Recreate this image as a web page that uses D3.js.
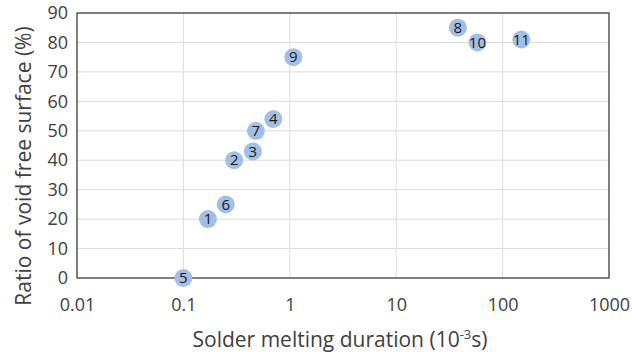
<!DOCTYPE html>
<html>
<head>
<meta charset="utf-8">
<script src="https://cdn.jsdelivr.net/npm/d3@7"></script>
<style>
  body { margin: 0; background: #fff; }
  text { font-family: "Open Sans", sans-serif; fill: #404040; }
</style>
</head>
<body>
<svg width="632" height="356"></svg>
<script>
// sample numbers, melting duration (10^-3 s), void free ratio (%)
const ids       = ["1", "2", "3", "4", "5", "6", "7", "8", "9", "10", "11"];
const durations = [0.17, 0.30, 0.45, 0.70, 0.10, 0.25, 0.48, 38, 1.08, 58, 150];
const ratios    = [20, 40, 43, 54, 0, 25, 50, 85, 75, 80, 81];
const xTicks    = [0.01, 0.1, 1, 10, 100, 1000];
const yTicks    = [0, 10, 20, 30, 40, 50, 60, 70, 80, 90];

const svg = d3.select("svg"),
      plotL = 77, plotR = 609, plotT = 13, plotB = 278;

const x = d3.scaleLog().domain([0.01, 1000]).range([plotL, plotR]);
const y = d3.scaleLinear().domain([0, 90]).range([plotB, plotT]);

const data = ids.map((id, i) => ({ id, x: durations[i], y: ratios[i] }));

// gridlines
svg.append("g")
  .selectAll("line")
  .data(xTicks)
  .join("line")
    .attr("x1", d => x(d)).attr("x2", d => x(d))
    .attr("y1", plotT).attr("y2", plotB)
    .attr("stroke", "#dcdcdc");
svg.append("g")
  .selectAll("line")
  .data(yTicks)
  .join("line")
    .attr("x1", plotL).attr("x2", plotR)
    .attr("y1", d => y(d)).attr("y2", d => y(d))
    .attr("stroke", "#dcdcdc");

// frame
svg.append("rect")
  .attr("x", plotL).attr("y", plotT)
  .attr("width", plotR - plotL).attr("height", plotB - plotT)
  .attr("fill", "none")
  .attr("stroke", "#444")
  .attr("stroke-width", 1.3);

// axes
const xAxis = svg.append("g")
  .attr("transform", `translate(0,${plotB})`)
  .call(d3.axisBottom(x).tickValues(xTicks).tickFormat(d3.format("~g")).tickSize(0).tickPadding(20));
const yAxis = svg.append("g")
  .attr("transform", `translate(${plotL},0)`)
  .call(d3.axisLeft(y).tickValues(yTicks).tickSize(0).tickPadding(9));
[xAxis, yAxis].forEach(g => {
  g.select(".domain").remove();
  g.selectAll("text")
    .attr("font-size", 18)
    .attr("font-family", "Open Sans, sans-serif")
    .attr("fill", "#404040");
});

// points
svg.append("g")
  .selectAll("circle")
  .data(data)
  .join("circle")
    .attr("cx", d => x(d.x))
    .attr("cy", d => y(d.y))
    .attr("r", 9)
    .attr("fill", "#a3bfe6");

svg.append("g")
  .selectAll("text")
  .data(data)
  .join("text")
    .attr("x", d => x(d.x))
    .attr("y", d => y(d.y))
    .attr("dy", "0.35em")
    .attr("text-anchor", "middle")
    .attr("font-size", 15)
    .style("fill", "#1a1a1a")
    .text(d => d.id);

// axis titles
const xt = svg.append("text")
  .attr("x", (plotL + plotR) / 2 - 3)
  .attr("y", 347)
  .attr("text-anchor", "middle")
  .attr("font-size", 21);
xt.append("tspan").text("Solder melting duration (10");
xt.append("tspan").attr("font-size", 13).attr("dy", -8).text("-3");
xt.append("tspan").attr("dy", 8).text("s)");

svg.append("text")
  .attr("transform", `translate(31,166) rotate(-90)`)
  .attr("text-anchor", "middle")
  .attr("font-size", 21)
  .text("Ratio of void free surface (%)");
</script>
</body>
</html>
